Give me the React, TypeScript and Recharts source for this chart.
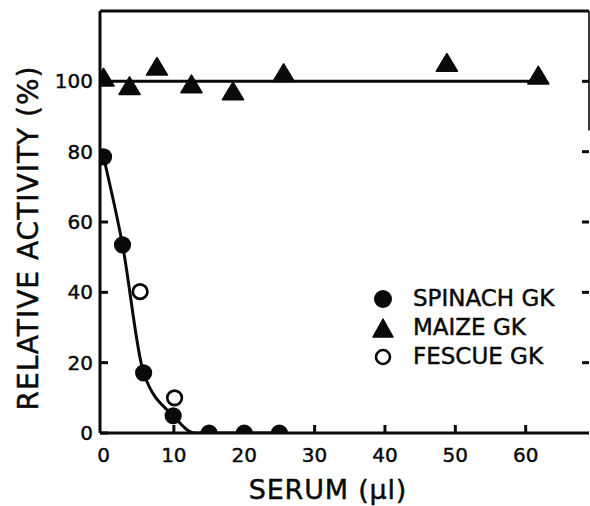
import React from 'react';
import { ComposedChart, Line, Scatter, XAxis, YAxis, ReferenceLine, Legend, Label } from 'recharts';

const FONT = '"DejaVu Sans", "Liberation Sans", sans-serif';
const INK = '#0a0a0a';

// Points
const spinachSerum = [0, 2.7, 5.7, 9.9, 15, 20, 25];
const spinachActivity = [78.5, 53.5, 17.1, 4.9, 0, 0, 0];
const fescueSerum = [5.2, 10.1];
const fescueActivity = [40.2, 10];
const maizeSerum = [0, 3.7, 7.6, 12.5, 18.4, 25.6, 48.8, 61.8];
const maizeActivity = [101.1, 98.7, 104.2, 99.2, 97.2, 102.4, 105.3, 101.7];
// Drawn fit curves
const spinachCurveSerum = [0, 2.7, 5.7, 9.9, 13, 25];
const spinachCurveActivity = [78.5, 53.5, 17.1, 4.9, 0, 0];
const maizeLineSerum = [0, 63];
const maizeLineActivity = [100, 100];

const xTicks = [0, 10, 20, 30, 40, 50, 60];
const yTicks = [0, 20, 40, 60, 80, 100];
const rightTicks = [20, 40, 60, 80, 100];
const legendLabels = ['SPINACH GK', 'MAIZE GK', 'FESCUE GK'];

const zip = (xs: number[], ys: number[]) => xs.map((x, i) => ({ x, y: ys[i] }));

const spinach = zip(spinachSerum, spinachActivity);
const fescue = zip(fescueSerum, fescueActivity);
const maize = zip(maizeSerum, maizeActivity);
const spinachCurve = zip(spinachCurveSerum, spinachCurveActivity);
const maizeLine = zip(maizeLineSerum, maizeLineActivity);

const X_MIN = -0.5;
const X_MAX = 69;
const Y_MAX = 120;
const LW = 3;
const TEXT_STROKE = 0.45;

const YTick = (props: any) => {
  const { x, y, payload } = props;
  return (
    <g>
      <line x1={x} x2={x + 8} y1={y} y2={y} stroke={INK} strokeWidth={LW} />
      <text
        x={x - 7}
        y={y}
        dy={7}
        textAnchor="end"
        fontSize={20}
        fontFamily={FONT}
        fill={INK}
        stroke={INK}
        strokeWidth={TEXT_STROKE}
      >
        {payload.value}
      </text>
    </g>
  );
};

const XTick = (props: any) => {
  const { x, y, payload } = props;
  return (
    <g>
      {payload.value !== 0 && <line x1={x} x2={x} y1={y} y2={y - 8} stroke={INK} strokeWidth={LW} />}
      <text
        x={x}
        y={y + 29}
        textAnchor="middle"
        fontSize={20}
        fontFamily={FONT}
        fill={INK}
        stroke={INK}
        strokeWidth={TEXT_STROKE}
      >
        {payload.value}
      </text>
    </g>
  );
};

const FilledDot = (p: any) => <circle cx={p.cx} cy={p.cy} r={8.6} fill={INK} />;
const OpenDot = (p: any) => <circle cx={p.cx} cy={p.cy} r={7.3} fill="#fff" stroke={INK} strokeWidth={2.7} />;
const Tri = (p: any) => (
  <polygon
    points={`${p.cx},${p.cy - 9} ${p.cx - 10.5},${p.cy + 8.5} ${p.cx + 10.5},${p.cy + 8.5}`}
    fill={INK}
    stroke={INK}
    strokeWidth={1.6}
    strokeLinejoin="round"
  />
);

const legendMarkers = [
  <circle cx={11} cy={11} r={9} fill={INK} />,
  <polygon points="11,2 1,20 21,20" fill={INK} stroke={INK} strokeWidth={1.5} strokeLinejoin="round" />,
  <circle cx={11} cy={11} r={7} fill="#fff" stroke={INK} strokeWidth={2.6} />,
];

const renderLegend = () => (
  <div style={{ fontFamily: FONT, fontSize: 23, color: INK, WebkitTextStroke: `${TEXT_STROKE}px ${INK}` } as any}>
    {legendLabels.map((label, i) => (
      <div key={label} style={{ display: 'flex', alignItems: 'center', height: 29, lineHeight: '29px' }}>
        <svg width={22} height={22} style={{ display: 'block' }}>
          {legendMarkers[i]}
        </svg>
        <span style={{ marginLeft: 19, whiteSpace: 'nowrap' }}>{label}</span>
      </div>
    ))}
  </div>
);

const YTitle = (props: any) => {
  const vb = props.viewBox;
  const cx = 38;
  const cy = vb.y + vb.height / 2 + 16;
  return (
    <text
      x={cx}
      y={cy}
      transform={`rotate(-90, ${cx}, ${cy})`}
      textAnchor="middle"
      fontSize={28}
      fontFamily={FONT}
      letterSpacing={1}
      fill={INK}
      stroke={INK}
      strokeWidth={TEXT_STROKE}
    >
      RELATIVE ACTIVITY (%)
    </text>
  );
};

const XTitle = (props: any) => {
  const vb = props.viewBox;
  return (
    <text
      x={328}
      y={vb.y + 66}
      textAnchor="middle"
      fontSize={27}
      fontFamily={FONT}
      letterSpacing={0.8}
      fill={INK}
      stroke={INK}
      strokeWidth={TEXT_STROKE}
    >
      SERUM (µl)
    </text>
  );
};

export default function App() {
  return (
    <div style={{ position: 'absolute', left: 0, top: 0, width: 590, height: 506, background: '#fff' }}>
      <ComposedChart width={590} height={506} margin={{ top: 11, right: 1, bottom: 0, left: 0 }}>
        <XAxis
          dataKey="x"
          type="number"
          domain={[X_MIN, X_MAX]}
          ticks={xTicks}
          interval={0}
          allowDataOverflow
          height={73}
          tickSize={0}
          tickMargin={0}
          tick={<XTick />}
          axisLine={{ stroke: INK, strokeWidth: LW }}
        >
          <Label content={<XTitle />} />
        </XAxis>
        <YAxis
          dataKey="y"
          type="number"
          domain={[0, Y_MAX]}
          ticks={yTicks}
          interval={0}
          allowDataOverflow
          width={100}
          tickSize={0}
          tickMargin={0}
          tick={<YTick />}
          axisLine={{ stroke: INK, strokeWidth: LW }}
        >
          <Label content={<YTitle />} />
        </YAxis>
        <ReferenceLine y={Y_MAX} stroke={INK} strokeWidth={LW} />
        <ReferenceLine segment={[{ x: X_MAX, y: Y_MAX }, { x: X_MAX, y: 86 }]} stroke={INK} strokeWidth={1.6} />
        {rightTicks.map((t) => (
          <ReferenceLine key={t} segment={[{ x: X_MAX - 1, y: t }, { x: X_MAX, y: t }]} stroke={INK} strokeWidth={LW} />
        ))}
        <Line
          data={maizeLine}
          dataKey="y"
          type="linear"
          stroke={INK}
          strokeWidth={LW}
          dot={false}
          activeDot={false}
          isAnimationActive={false}
          legendType="none"
        />
        <Line
          data={spinachCurve}
          dataKey="y"
          type="monotone"
          stroke={INK}
          strokeWidth={LW}
          dot={false}
          activeDot={false}
          isAnimationActive={false}
          legendType="none"
        />
        <Scatter data={maize} dataKey="y" shape={Tri} isAnimationActive={false} />
        <Scatter data={spinach} dataKey="y" shape={FilledDot} isAnimationActive={false} />
        <Scatter data={fescue} dataKey="y" shape={OpenDot} isAnimationActive={false} />
        <Legend
          layout="vertical"
          align="center"
          verticalAlign="middle"
          content={renderLegend}
          wrapperStyle={{ position: 'absolute', left: 372, top: 284, width: 210, height: 90 }}
        />
      </ComposedChart>
    </div>
  );
}
